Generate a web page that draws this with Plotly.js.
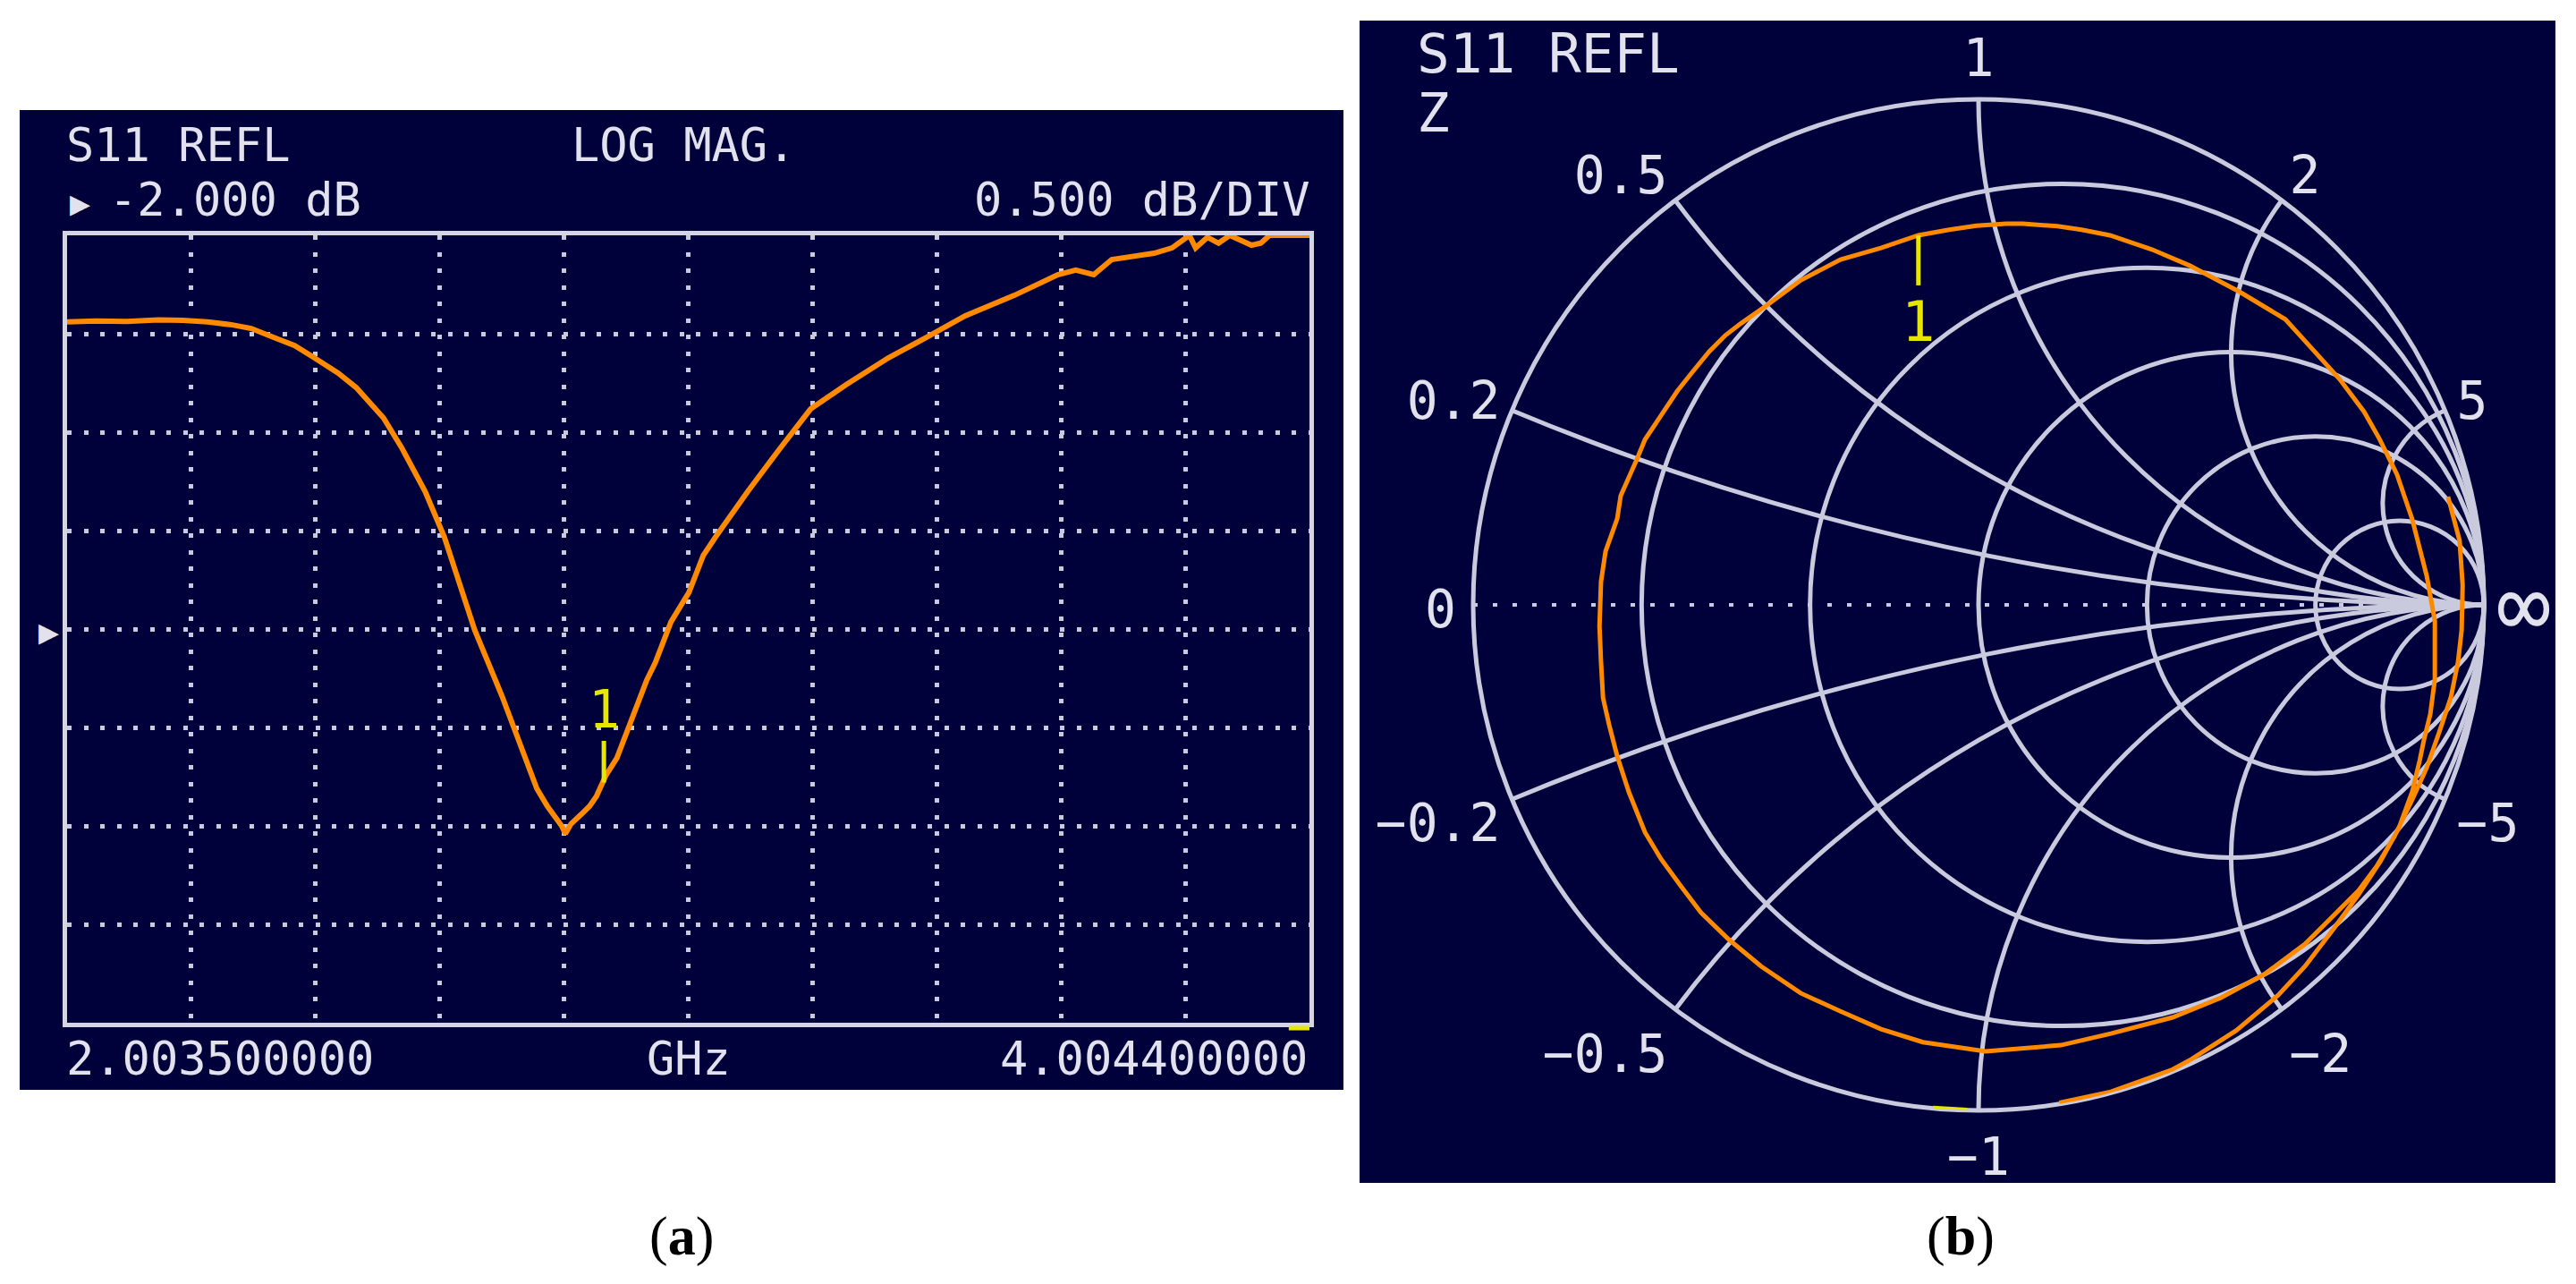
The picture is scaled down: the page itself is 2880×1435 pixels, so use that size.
<!DOCTYPE html>
<html><head><meta charset="utf-8">
<script src="https://cdn.plot.ly/plotly-3.0.1.min.js"></script>
<style>html,body{margin:0;padding:0;background:#fff;} #chart{width:2880px;height:1435px;}</style>
</head><body><div id="chart"></div>
<script>
// ---------- (a) S11 log magnitude ----------
const freqGHz = [2.0035, 2.05, 2.10, 2.15, 2.19, 2.23, 2.27, 2.30, 2.336, 2.37,
  2.402, 2.44, 2.469, 2.513, 2.542, 2.58, 2.611, 2.63, 2.66, 2.704,
  2.741, 2.760, 2.777, 2.789, 2.800, 2.806, 2.815, 2.832, 2.845, 2.856,
  2.871, 2.889, 2.904, 2.918, 2.937, 2.951, 2.976, 3.005, 3.028, 3.048,
  3.10, 3.153, 3.201, 3.258, 3.326, 3.388, 3.45, 3.529, 3.599, 3.628,
  3.657, 3.686, 3.721, 3.754, 3.783, 3.801, 3.811, 3.821, 3.840, 3.858,
  3.876, 3.911, 3.926, 3.94, 4.0044];
const s11dB = [-0.44, -0.435, -0.437, -0.43, -0.432, -0.44, -0.455, -0.473, -0.518, -0.56,
  -0.623, -0.70, -0.773, -0.927, -1.077, -1.30, -1.532, -1.718, -2.005, -2.341,
  -2.664, -2.81, -2.90, -2.955, -3.00, -3.04, -2.99, -2.94, -2.90, -2.85,
  -2.745, -2.655, -2.53, -2.41, -2.26, -2.17, -1.964, -1.814, -1.627, -1.532,
  -1.30, -1.077, -0.882, -0.759, -0.623, -0.518, -0.409, -0.305, -0.20, -0.177,
  -0.20, -0.123, -0.109, -0.091, -0.064, -0.023, 0, -0.064, -0.01, -0.04,
  0, -0.05, -0.04, 0, 0];
const freqRange = [2.0035, 4.0044];
const dbRange = [-4, 0];
const dbPerDiv = 0.5;
const freqDivisions = 10;
const markerFreqGHz = [2.868];
const markerDb = [-2.78];
const sweepEndMarkGHz = [3.971, 4.0044];
const freqTickLabels = ['2.003500000', 'GHz', '4.004400000'];
const headerLabels = ['S11 REFL', 'LOG MAG.', '-2.000 dB', '0.500 dB/DIV'];

// ---------- (b) S11 on the Smith chart: reflection coefficient ----------
const gammaRe = [0.929, 0.952, 0.958, 0.956, 0.949, 0.935, 0.912, 0.887, 0.857, 0.823,
  0.788, 0.752, 0.699, 0.646, 0.568, 0.480, 0.384, 0.262, 0.163, 0.014,
  -0.110, -0.193, -0.273, -0.352, -0.430, -0.494, -0.549, -0.589, -0.628, -0.660,
  -0.692, -0.715, -0.731, -0.743, -0.747, -0.750, -0.747, -0.738, -0.715, -0.708,
  -0.676, -0.660, -0.628, -0.596, -0.565, -0.533, -0.501, -0.471, -0.414, -0.352,
  -0.273, -0.193, -0.119, -0.058, -0.004, 0.055, 0.088, 0.156, 0.204, 0.260,
  0.343, 0.418, 0.517, 0.607, 0.657, 0.715, 0.763, 0.793, 0.828, 0.858,
  0.887, 0.903, 0.903, 0.894, 0.881, 0.873, 0.858, 0.832, 0.796, 0.752,
  0.704, 0.646, 0.593, 0.510, 0.421, 0.384, 0.262, 0.160];
const gammaIm = [0.214, 0.127, 0.039, -0.050, -0.112, -0.182, -0.251, -0.322, -0.388, -0.458,
  -0.517, -0.565, -0.618, -0.671, -0.729, -0.777, -0.816, -0.848, -0.871, -0.883,
  -0.865, -0.839, -0.804, -0.768, -0.715, -0.662, -0.609, -0.556, -0.503, -0.450,
  -0.370, -0.299, -0.237, -0.184, -0.113, -0.042, 0.046, 0.106, 0.170, 0.216,
  0.288, 0.327, 0.375, 0.423, 0.462, 0.501, 0.533, 0.556, 0.596, 0.642,
  0.683, 0.706, 0.731, 0.742, 0.750, 0.754, 0.754, 0.749, 0.742, 0.731,
  0.703, 0.671, 0.619, 0.565, 0.510, 0.446, 0.382, 0.329, 0.258, 0.170,
  0.057, -0.032, -0.147, -0.216, -0.269, -0.308, -0.370, -0.441, -0.506, -0.573,
  -0.639, -0.715, -0.772, -0.842, -0.899, -0.919, -0.963, -0.985];
const smithMarkerBarRe = [-0.119, -0.119];
const smithMarkerBarIm = [0.731, 0.632];
const smithMarkerLabelRe = [-0.119];
const smithMarkerLabelIm = [0.549];
const sweepEndGammaRe = [-0.090, -0.023];
const sweepEndGammaIm = [-0.995, -0.999];
const resistanceTicks = [0.2, 0.5, 1, 2, 5];
const reactanceTicks = [-5, -2, -1, -0.5, -0.2, 0.2, 0.5, 1, 2, 5];
const centerLineReal = [0, 10000];
const centerLineImag = [0, 0];
const smithHeader = ['S11 REFL', 'Z'];
const smithEndLabels = ['0'];

// ---------- helpers ----------
const W = 2880, H = 1435;
const px = x => x / W;
const py = y => 1 - y / H;
// the smith trace needs normalized impedance z = (1+G)/(1-G)
function toZ(re, im) {
  const zr = [], zi = [];
  for (let i = 0; i < re.length; i++) {
    const nr = 1 + re[i], ni = im[i];
    const dr = 1 - re[i], di = -im[i];
    const den = dr * dr + di * di;
    zr.push((nr * dr + ni * di) / den);
    zi.push((ni * dr - nr * di) / den);
  }
  return [zr, zi];
}

const NAVY = '#00003a';
const GRID = '#cacade';
const FRAME = '#d4d4e4';
const TXT = '#e2e2ee';
const ORANGE = '#ff8a00';
const YEL = '#e6e600';
const MONO = 'DejaVu Sans Mono';

const zTrace = toZ(gammaRe, gammaIm);
const zBar = toZ(smithMarkerBarRe, smithMarkerBarIm);
const zLab = toZ(smithMarkerLabelRe, smithMarkerLabelIm);
const zEnd = toZ(sweepEndGammaRe, sweepEndGammaIm);

const traces = [
  {type: 'scatter', x: freqGHz, y: s11dB, mode: 'lines', xaxis: 'x', yaxis: 'y',
   line: {color: ORANGE, width: 6}, hoverinfo: 'skip'},
  {type: 'scattersmith', subplot: 'smith', real: centerLineReal, imag: centerLineImag, mode: 'lines',
   line: {color: GRID, width: 4, dash: '5px,17px'}, hoverinfo: 'skip'},
  {type: 'scattersmith', subplot: 'smith', real: zTrace[0], imag: zTrace[1], mode: 'lines',
   line: {color: ORANGE, width: 5}, hoverinfo: 'skip'},
  {type: 'scattersmith', subplot: 'smith', real: zBar[0], imag: zBar[1], mode: 'lines',
   line: {color: YEL, width: 5}, hoverinfo: 'skip'},
  {type: 'scattersmith', subplot: 'smith', real: zLab[0], imag: zLab[1], mode: 'text', text: ['1'],
   textfont: {family: MONO, size: 62, color: YEL}, textposition: 'middle center', hoverinfo: 'skip'},
  {type: 'scattersmith', subplot: 'smith', real: zEnd[0], imag: zEnd[1], mode: 'lines',
   line: {color: YEL, width: 5}, hoverinfo: 'skip'}
];

function txt(text, x, y, xanchor, size, color, family) {
  return {text: text, x: px(x), y: py(y), xref: 'paper', yref: 'paper', xanchor: xanchor, yanchor: 'middle',
          showarrow: false, font: {family: family || MONO, size: size, color: color || TXT}};
}

const annotations = [
  txt(headerLabels[0], 72, 162, 'left', 52),
  txt(headerLabels[1], 637, 162, 'left', 52),
  txt('\u25B6', 76, 227, 'left', 38),
  txt(headerLabels[2], 120, 223, 'left', 52),
  txt(headerLabels[3], 1467, 223, 'right', 52),
  txt(freqTickLabels[0], 72, 1183, 'left', 52),
  txt(freqTickLabels[1], 721, 1183, 'left', 52),
  txt(freqTickLabels[2], 1464, 1183, 'right', 52),
  txt('\u25B6', 68, 706, 'right', 38),
  txt(smithHeader[0], 1582, 60, 'left', 61),
  txt(smithHeader[1], 1582, 126, 'left', 61),
  txt(smithEndLabels[0], 1610, 681, 'center', 58),
  txt('(<b>a</b>)', 762, 1381, 'center', 62, '#000', 'Liberation Serif'),
  txt('(<b>b</b>)', 2192, 1381, 'center', 62, '#000', 'Liberation Serif'),
  {x: markerFreqGHz[0], y: markerDb[0], xref: 'x', yref: 'y', text: '1', showarrow: true,
   arrowhead: 0, arrowwidth: 5, arrowcolor: YEL, ax: 0, ay: -82, standoff: 0,
   font: {family: MONO, size: 58, color: YEL}}
];

const layout = {
  width: W, height: H, margin: {l: 0, r: 0, t: 0, b: 0, pad: 0},
  paper_bgcolor: '#ffffff', plot_bgcolor: NAVY, showlegend: false, hovermode: false,
  xaxis: {domain: [px(75), px(1464)], range: freqRange, autorange: false,
          tick0: freqRange[0], dtick: (freqRange[1] - freqRange[0]) / freqDivisions,
          showticklabels: false, ticks: '', zeroline: false,
          showgrid: true, gridcolor: GRID, gridwidth: 5, griddash: '5px,13.5px',
          showline: true, mirror: true, linecolor: FRAME, linewidth: 5, layer: 'below traces'},
  yaxis: {domain: [py(1143), py(263)], range: dbRange, autorange: false,
          tick0: 0, dtick: dbPerDiv, showticklabels: false, ticks: '', zeroline: false,
          showgrid: true, gridcolor: GRID, gridwidth: 5, griddash: '5px,13.5px',
          showline: true, mirror: true, linecolor: FRAME, linewidth: 5, layer: 'below traces'},
  smith: {
    domain: {x: [px(1647), px(2777)], y: [py(1241), py(111)]},
    bgcolor: NAVY,
    realaxis: {tickvals: resistanceTicks, showticklabels: false, ticks: '', showline: false,
               showgrid: true, gridcolor: GRID, gridwidth: 5, layer: 'below traces'},
    imaginaryaxis: {tickvals: reactanceTicks, ticks: '', showline: true, linecolor: GRID, linewidth: 5,
               showgrid: true, gridcolor: GRID, gridwidth: 5, layer: 'below traces',
               tickfont: {family: MONO, size: 58, color: TXT}}
  },
  shapes: [
    {type: 'rect', xref: 'paper', yref: 'paper', x0: px(22), x1: px(1502), y0: py(1218), y1: py(123),
     fillcolor: NAVY, line: {width: 0}, layer: 'below'},
    {type: 'rect', xref: 'paper', yref: 'paper', x0: px(1520), x1: px(2857), y0: py(1322), y1: py(23),
     fillcolor: NAVY, line: {width: 0}, layer: 'below'},
    {type: 'line', xref: 'x', yref: 'paper', x0: sweepEndMarkGHz[0], x1: sweepEndMarkGHz[1],
     y0: py(1149), y1: py(1149), line: {color: YEL, width: 5}, layer: 'above'}
  ],
  annotations: annotations
};

Plotly.newPlot('chart', traces, layout, {staticPlot: true, displayModeBar: false});
</script>
</body></html>
